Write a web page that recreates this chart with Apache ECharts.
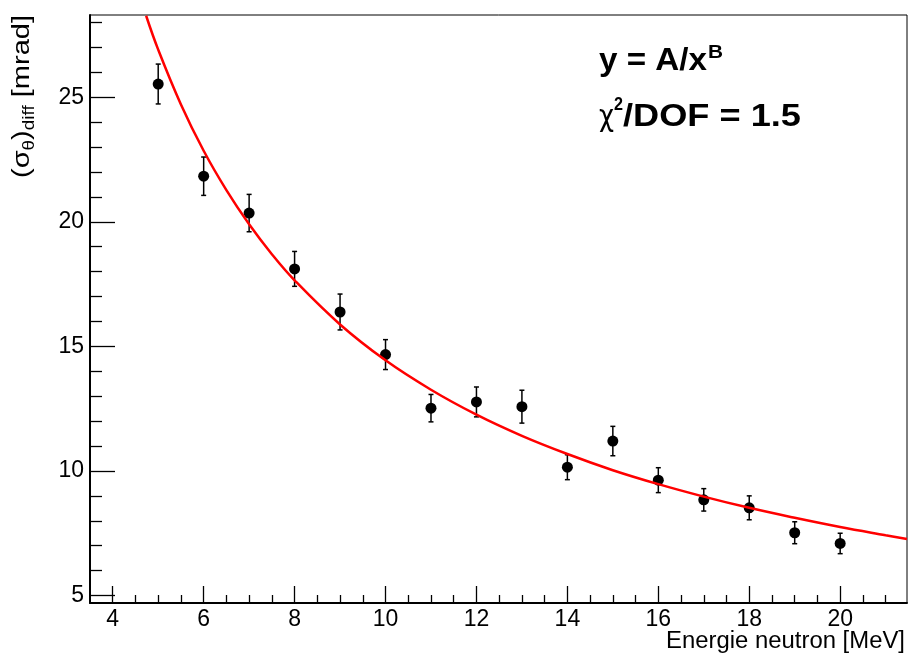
<!DOCTYPE html>
<html><head><meta charset="utf-8">
<script src="https://cdn.jsdelivr.net/npm/echarts@6/dist/echarts.min.js"></script>
<style>html,body{margin:0;padding:0;background:#fff}#c{width:911px;height:653px}</style>
</head><body><div id="c"></div>
<script>
const energies = [5, 6, 7, 8, 9, 10, 11, 12, 13, 14, 15, 16, 17, 18, 19, 20];
const sigmaValues = [25.53, 21.83, 20.35, 18.11, 16.38, 14.67, 12.52, 12.77, 12.58, 10.15, 11.20, 9.63, 8.84, 8.52, 7.52, 7.09];
const sigmaErrors = [0.80, 0.77, 0.75, 0.70, 0.72, 0.60, 0.55, 0.60, 0.66, 0.50, 0.59, 0.50, 0.45, 0.48, 0.44, 0.41];
const fitX = [4.735, 5, 5.5, 6, 6.5, 7, 7.5, 8, 9, 10, 11, 12, 13, 14, 15, 16, 17, 18, 19, 20, 21, 21.47];
const fitY = [28.27, 26.91, 24.71, 22.85, 21.27, 19.90, 18.70, 17.65, 15.88, 14.44, 13.26, 12.26, 11.41, 10.68, 10.03, 9.47, 8.97, 8.52, 8.12, 7.75, 7.42, 7.27];
const xMajorTicks = [4, 6, 8, 10, 12, 14, 16, 18, 20];
const xMinorTicks = [4.5, 5, 5.5, 6.5, 7, 7.5, 8.5, 9, 9.5, 10.5, 11, 11.5, 12.5, 13, 13.5, 14.5, 15, 15.5, 16.5, 17, 17.5, 18.5, 19, 19.5, 20.5, 21];
const yMajorTicks = [5, 10, 15, 20, 25];
const yMinorTicks = [6, 7, 8, 9, 11, 12, 13, 14, 16, 17, 18, 19, 21, 22, 23, 24, 26, 27, 28];
const xTitle = 'Energie neutron [MeV]';
const yTitleParts = [['(σ', 'n'], ['θ', 's'], [')', 'n'], ['diff', 's'], [' [mrad]', 'n']];
const formulaMain = 'y = A/x';
const formulaSup = 'B';
const chiSymbol = 'χ';
const chiSup = '2';
const chiRest = '/DOF = 1.5';

const X_MIN = 3.5, X_MAX = 21.47, Y_MIN = 4.70, Y_MAX = 28.30;
const FONT = '"Liberation Sans", Arial, Helvetica, sans-serif';

const ctx = document.createElement('canvas').getContext('2d');
function measure(text, font) { ctx.font = font; return ctx.measureText(text).width; }

const chart = echarts.init(document.getElementById('c'), null, {renderer: 'canvas'});

const pointData = energies.map((e, i) => [e, sigmaValues[i]]);
const errData = energies.map((e, i) => [e, sigmaValues[i] - sigmaErrors[i], sigmaValues[i] + sigmaErrors[i]]);
const fitData = fitX.map((x, i) => [x, fitY[i]]);

function baseX(extra) {
  return Object.assign({type: 'value', min: X_MIN, max: X_MAX, gridIndex: 0, position: 'bottom', splitLine: {show: false}}, extra);
}
function baseY(extra) {
  return Object.assign({type: 'value', min: Y_MIN, max: Y_MAX, gridIndex: 0, position: 'left', splitLine: {show: false}}, extra);
}

const graphics = [];
function fitText(text, font, x, y, targetW) {
  const w = measure(text, font);
  const sx = targetW ? targetW / w : 1;
  graphics.push({
    type: 'text', x: x, y: y, scaleX: sx, scaleY: 1, originX: 0, originY: 0,
    style: {text: text, font: font, fill: '#000', align: 'left', verticalAlign: 'middle'}
  });
}
const F1 = 'bold 31px ' + FONT;
const FS = 'bold 18px ' + FONT;
fitText(formulaMain, F1, 599, 61, 108);
fitText(formulaSup, FS, 708, 53, 15);
fitText(chiSymbol, '31px "DejaVu Sans", sans-serif', 599, 118, 15);
fitText(chiSup, FS, 614, 105, 9);
fitText(chiRest, F1, 623, 117, 178);

(function () {
  const f = '23px ' + FONT;
  const w = measure(xTitle, f);
  const target = 239;
  graphics.push({type: 'text', x: 905 - target, y: 641.5, scaleX: target / w, originX: 0, originY: 0,
    style: {text: xTitle, font: f, fill: '#000', align: 'left', verticalAlign: 'middle'}});
})();

(function () {
  const fonts = {n: '23px ' + FONT, s: '15px ' + FONT};
  const centerX = {n: 22, s: 30};
  const widths = yTitleParts.map(p => measure(p[0], fonts[p[1]]));
  const total = widths.reduce((a, b) => a + b, 0);
  const target = 163;
  const k = target / total;
  let cursor = 15 + target;
  yTitleParts.forEach((p, i) => {
    graphics.push({type: 'text', x: centerX[p[1]], y: cursor, rotation: Math.PI / 2, scaleX: k, scaleY: 1.05,
      originX: 0, originY: 0,
      style: {text: p[0], font: fonts[p[1]], fill: '#000', align: 'left', verticalAlign: 'middle'}});
    cursor -= widths[i] * k;
  });
})();

const option = {
  animation: false,
  backgroundColor: '#ffffff',
  grid: {left: 90, top: 15, width: 817, height: 588, show: true, borderColor: '#000', borderWidth: 1, backgroundColor: 'transparent'},
  xAxis: [
    baseX({
      axisLine: {show: true, onZero: false, lineStyle: {color: '#000', width: 2}},
      axisTick: {show: true, inside: true, length: 17, customValues: xMajorTicks, lineStyle: {color: '#000', width: 1.3}},
      axisLabel: {show: true, margin: 5, customValues: xMajorTicks, color: '#000', fontSize: 23, fontFamily: FONT}
    }),
    baseX({
      axisLine: {show: false},
      axisTick: {show: true, inside: true, length: 8, customValues: xMinorTicks, lineStyle: {color: '#000', width: 1.3}},
      axisLabel: {show: false}
    })
  ],
  yAxis: [
    baseY({
      axisLine: {show: true, onZero: false, lineStyle: {color: '#000', width: 2}},
      axisTick: {show: true, inside: true, length: 25, customValues: yMajorTicks, lineStyle: {color: '#000', width: 1.3}},
      axisLabel: {show: true, margin: 6, customValues: yMajorTicks, color: '#000', fontSize: 23, fontFamily: FONT}
    }),
    baseY({
      axisLine: {show: false},
      axisTick: {show: true, inside: true, length: 12, customValues: yMinorTicks, lineStyle: {color: '#000', width: 1.3}},
      axisLabel: {show: false}
    })
  ],
  series: [
    {
      type: 'custom', xAxisIndex: 0, yAxisIndex: 0, data: errData, z: 3,
      renderItem: function (params, api) {
        const x = api.value(0);
        const lo = api.coord([x, api.value(1)]);
        const hi = api.coord([x, api.value(2)]);
        const cap = 2.5;
        const st = {stroke: '#000', lineWidth: 1.5};
        return {type: 'group', children: [
          {type: 'line', shape: {x1: lo[0], y1: lo[1], x2: hi[0], y2: hi[1]}, style: st},
          {type: 'line', shape: {x1: lo[0] - cap, y1: lo[1], x2: lo[0] + cap, y2: lo[1]}, style: st},
          {type: 'line', shape: {x1: hi[0] - cap, y1: hi[1], x2: hi[0] + cap, y2: hi[1]}, style: st}
        ]};
      }
    },
    {
      type: 'scatter', xAxisIndex: 0, yAxisIndex: 0, data: pointData,
      symbol: 'circle', symbolSize: 11, itemStyle: {color: '#000', opacity: 1}, z: 4
    },
    {
      type: 'line', xAxisIndex: 0, yAxisIndex: 0, data: fitData,
      smooth: 0.4, showSymbol: false, symbol: 'none',
      lineStyle: {color: '#ff0000', width: 2.5}, z: 5
    }
  ],
  graphic: graphics
};
chart.setOption(option);
</script>
</body></html>
